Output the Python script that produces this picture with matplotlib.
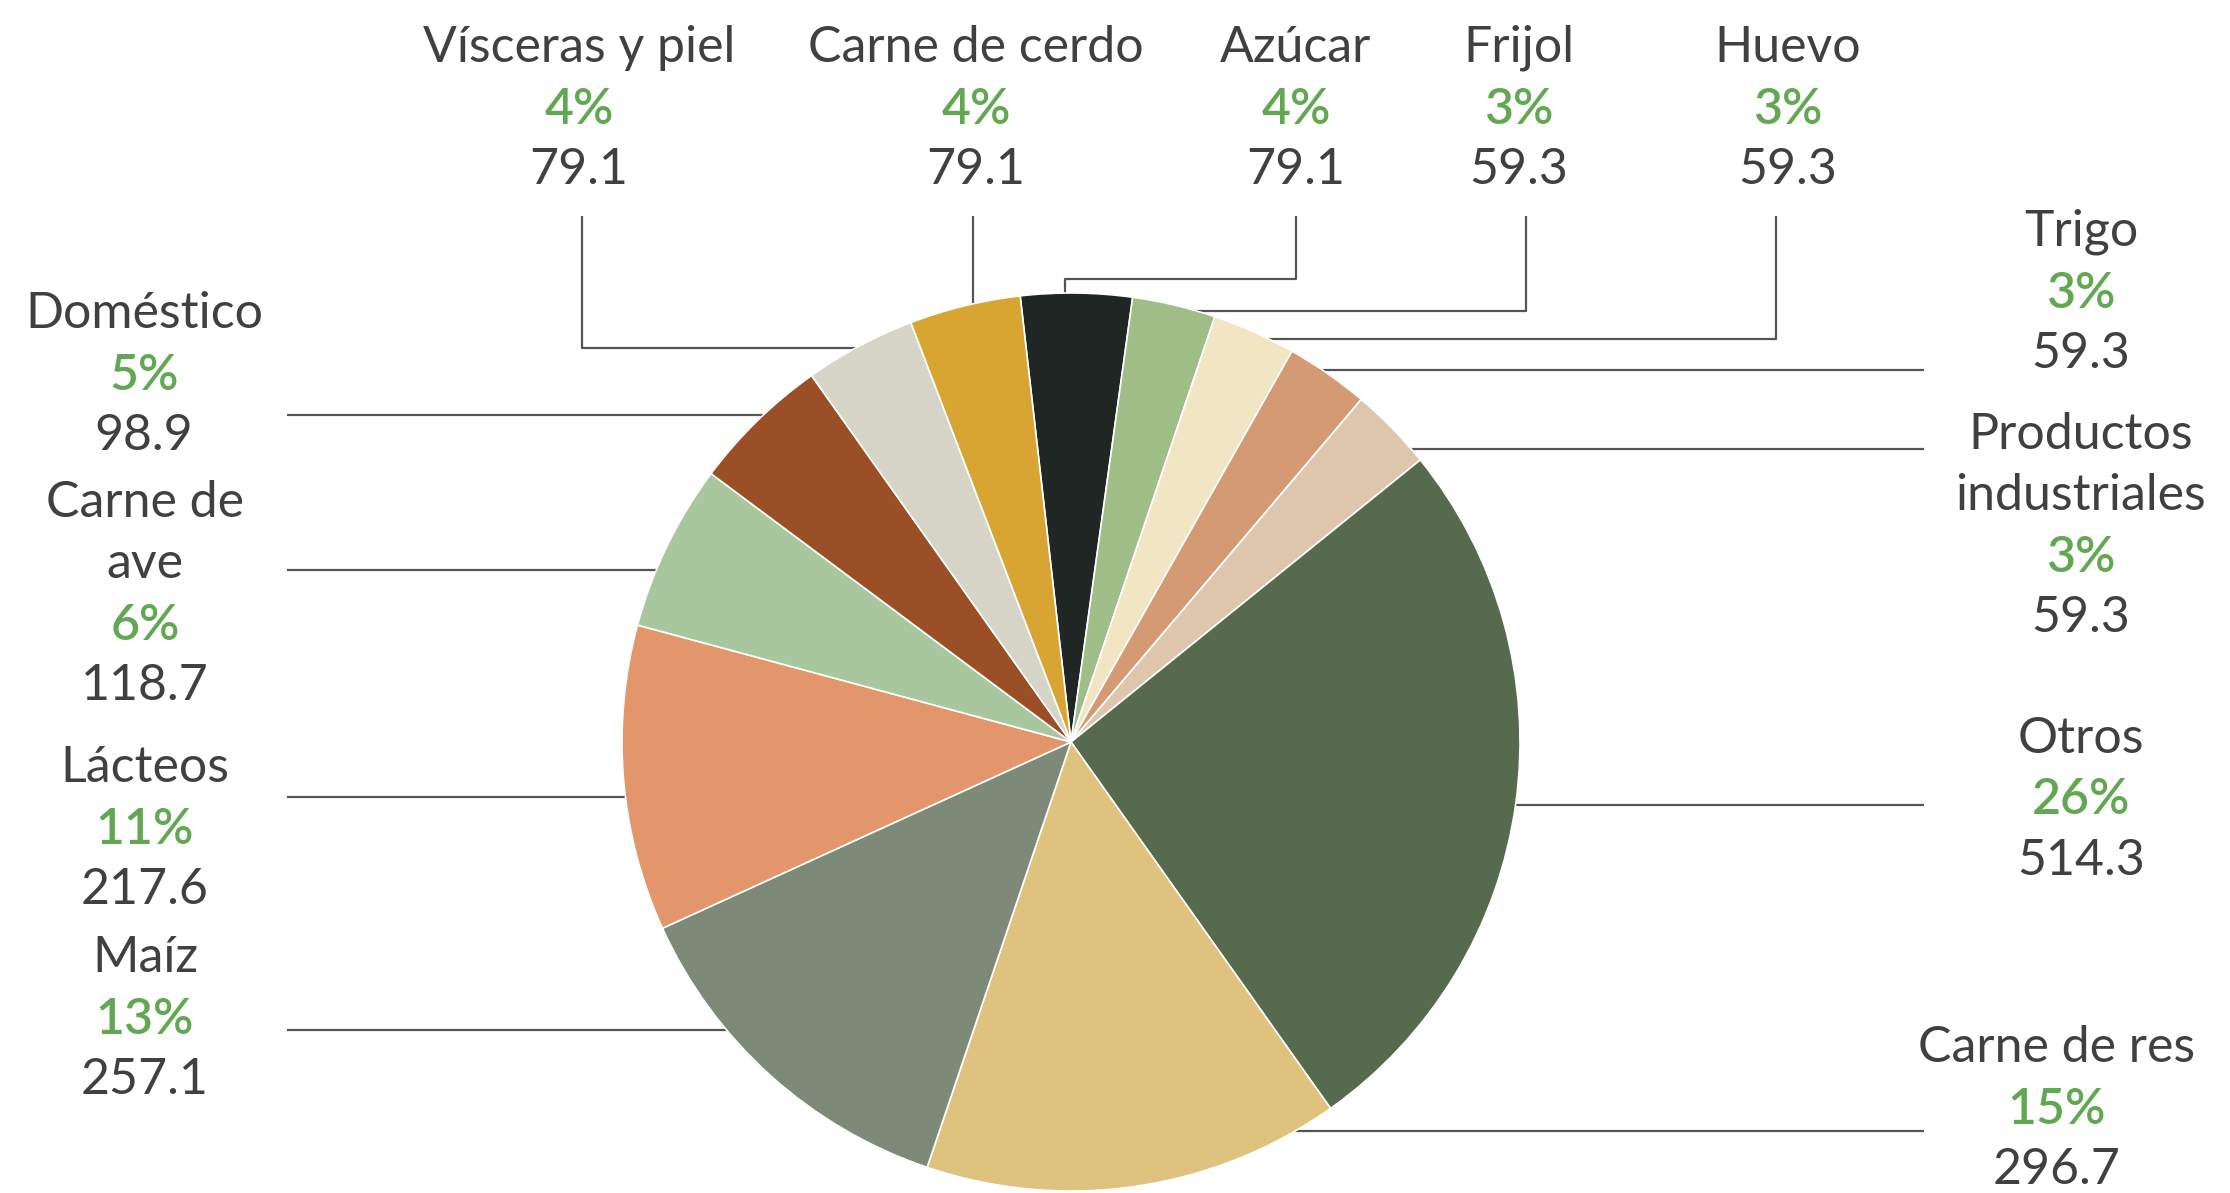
import matplotlib.pyplot as plt

# Datos: valor por rubro (orden de las rebanadas, en sentido horario desde arriba)
categorias = ["Azúcar", "Frijol", "Huevo", "Trigo", "Productos\nindustriales",
              "Otros", "Carne de res", "Maíz", "Lácteos", "Carne de\nave",
              "Doméstico", "Vísceras y piel", "Carne de cerdo"]
valores = [79.1, 59.3, 59.3, 59.3, 59.3, 514.3, 296.7, 257.1, 217.6, 118.7,
           98.9, 79.1, 79.1]
colores = ["#1f2623", "#9ebd87", "#f2e5c4", "#d49a74", "#dec6ac", "#566a4e",
           "#dfc27e", "#7d8a77", "#e3956b", "#a8c79e", "#9b4f26", "#d5d4c7",
           "#d8a533"]

W, H = 2230, 1193
CX, CY, R = 1071, 742, 449      # centro y radio del pastel (px, y hacia abajo)
PASO = 61                       # separacion entre renglones de etiqueta

# posicion (x, y del primer renglon) de cada etiqueta
pos_etiquetas = [(1296, 48), (1519, 48), (1788, 48), (2081, 232), (2081, 435),
                 (2081, 739), (2057, 1048), (145, 958), (145, 768), (145, 503),
                 (144, 314), (579, 48), (976, 48)]

# lineas guia; el ultimo tramo se prolonga bajo el pastel
guias = [
    [(1296, 216), (1296, 279), (1065, 279), (1065, CY)],
    [(1526, 216), (1526, 311), (CX, 311)],
    [(1776, 216), (1776, 339), (CX, 339)],
    [(1924, 370), (CX, 370)],
    [(1924, 449), (CX, 449)],
    [(1924, 805), (CX, 805)],
    [(1924, 1131), (CX, 1131)],
    [(287, 1030), (CX, 1030)],
    [(287, 797), (CX, 797)],
    [(287, 570), (CX, 570)],
    [(287, 415), (CX, 415)],
    [(582, 216), (582, 348), (CX, 348)],
    [(973, 216), (973, CY)],
]

GRIS = "#404040"
VERDE = "#62a852"
plt.rcParams['font.family'] = ['Lato', 'DejaVu Sans']

fig = plt.figure(figsize=(W / 100, H / 100), dpi=100)
ax = fig.add_axes([0, 0, 1, 1])


def Y(y):
    return H - y


for g in guias:
    xs = [p[0] for p in g]
    ys = [Y(p[1]) for p in g]
    ax.plot(xs, ys, color="#555555", lw=1.6, zorder=1, solid_capstyle='butt')

ax.pie(valores, colors=colores, startangle=96.5, counterclock=False,
       center=(CX, Y(CY)), radius=R,
       wedgeprops=dict(edgecolor="white", linewidth=1.2, zorder=2))

total = sum(valores)
for nombre, v, (x, y) in zip(categorias, valores, pos_etiquetas):
    renglones = nombre.split("\n")
    for i, r in enumerate(renglones):
        ax.text(x, Y(y + i * PASO), r, ha='center', va='center',
                fontsize=36, color=GRIS)
    k = len(renglones)
    ax.text(x, Y(y + k * PASO), f"{round(v / total * 100)}%", ha='center',
            va='center', fontsize=36, color=VERDE, fontweight='semibold')
    ax.text(x, Y(y + (k + 1) * PASO), f"{v:.1f}", ha='center', va='center',
            fontsize=36, color=GRIS)

ax.set_xlim(0, W)
ax.set_ylim(0, H)
ax.set_aspect('equal')
ax.axis('off')

fig.savefig("out.png", dpi=100, facecolor="white")
